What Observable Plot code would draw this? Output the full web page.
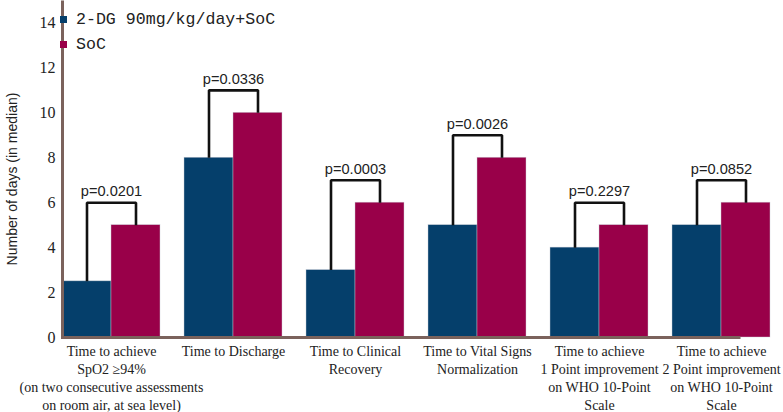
<!DOCTYPE html>
<html>
<head>
<meta charset="utf-8">
<script src="https://cdn.jsdelivr.net/npm/d3@7"></script>
<script src="https://cdn.jsdelivr.net/npm/@observablehq/plot@0.6"></script>
<style>
  html, body { margin: 0; padding: 0; background: #fff; }
  #wrap { position: relative; width: 783px; height: 412px; }
  #legend { position: absolute; left: 60px; top: 7px; font-family: "Liberation Mono", monospace; font-size: 16.6px; color: #222; }
  #legend .item { display: flex; align-items: center; height: 25px; }
  #legend .sw { width: 7px; height: 7px; margin-right: 9px; }
</style>
</head>
<body>
<div id="wrap"><div id="legend"></div></div>
<script>
const categories = [
  "Time to achieve\nSpO2 ≥94%\n(on two consecutive assessments\non room air, at sea level)",
  "Time to Discharge",
  "Time to Clinical\nRecovery",
  "Time to Vital Signs\nNormalization",
  "Time to achieve\n1 Point improvement\non WHO 10-Point\nScale",
  "Time to achieve\n2 Point improvement\non WHO 10-Point\nScale"
];
const seriesNames = ["2-DG 90mg/kg/day+SoC", "SoC"];
const treatment = [2.5, 8, 3, 5, 4, 5];
const soc = [5, 10, 6, 8, 5, 6];
const bracketTop = [6, 11, 7, 9, 6, 7];
const pValues = ["p=0.0201", "p=0.0336", "p=0.0003", "p=0.0026", "p=0.2297", "p=0.0852"];
const yTicks = [0, 2, 4, 6, 8, 10, 12, 14];
const colors = ["#053f6b", "#990049"];

const bars = categories.flatMap((c, i) => [
  {cat: c, series: seriesNames[0], value: treatment[i]},
  {cat: c, series: seriesNames[1], value: soc[i]}
]);
const brackets = categories.flatMap((c, i) => [
  {cat: c, series: seriesNames[0], y: treatment[i]},
  {cat: c, series: seriesNames[0], y: bracketTop[i]},
  {cat: c, series: seriesNames[1], y: bracketTop[i]},
  {cat: c, series: seriesNames[1], y: soc[i]}
]);
const labels = categories.map((c, i) => ({cat: c, y: bracketTop[i], text: pValues[i]}));

const axisColor = "#7b625c";
const W = 783, H = 412, ML = 45, MR = 0, MT = 0, MB = 75;
const fw = W - ML - MR, fh = H - MT - MB;

const chart = Plot.plot({
  width: W,
  height: H,
  marginLeft: ML,
  marginRight: MR,
  marginTop: MT,
  marginBottom: MB,
  style: {background: "#fff"},
  fx: {domain: categories, paddingInner: 0.2, paddingOuter: 0.11, align: 0.55, label: null},
  x: {domain: seriesNames, padding: 0, axis: null},
  y: {domain: [0, 15], axis: null},
  color: {domain: seriesNames, range: colors},
  marks: [
    Plot.barY(bars, {fx: "cat", x: "series", y: "value", fill: "series", stroke: "#c9ccd6", strokeWidth: 0.6, strokeOpacity: 0.7}),
    Plot.line(brackets, {fx: "cat", x: "series", y: "y", z: "cat", stroke: "#111", strokeWidth: 2.6, strokeLinejoin: "miter", strokeLinecap: "butt"}),
    Plot.text(labels, {fx: "cat", y: "y", text: "text", dy: -11, fontSize: 14.6, fontFamily: "Liberation Sans, Arial, sans-serif", fill: "#222"}),
    Plot.axisFx({anchor: "bottom", tickSize: 0, tickPadding: 6, fontSize: 14, lineHeight: 1.28, fontFamily: "Liberation Serif, Times New Roman, serif", fill: "#222", label: null}),
    Plot.axisY(yTicks, {anchor: "left", tickSize: 0, tickPadding: 7, fontSize: 16, fontFamily: "Liberation Serif, Times New Roman, serif", fill: "#222", label: null}),
    Plot.frame({facet: "super", stroke: axisColor, strokeWidth: 3, strokeDasharray: `0 ${fw + fh} ${fw + fh}`}),
    Plot.text(["Number of days (in median)"], {facet: "super", frameAnchor: "left", textAnchor: "middle", lineAnchor: "middle", rotate: -90, dx: -50, dy: 10, fontSize: 14, fontFamily: "Liberation Sans, Arial, sans-serif", fill: "#222"})
  ]
});

const wrap = document.getElementById("wrap");
wrap.insertBefore(chart, wrap.firstChild);
const legend = document.getElementById("legend");
seriesNames.forEach((s, i) => {
  const item = document.createElement("div");
  item.className = "item";
  const sw = document.createElement("span");
  sw.className = "sw";
  sw.style.background = colors[i];
  const t = document.createElement("span");
  t.textContent = s;
  item.appendChild(sw);
  item.appendChild(t);
  legend.appendChild(item);
});
</script>
</body>
</html>
